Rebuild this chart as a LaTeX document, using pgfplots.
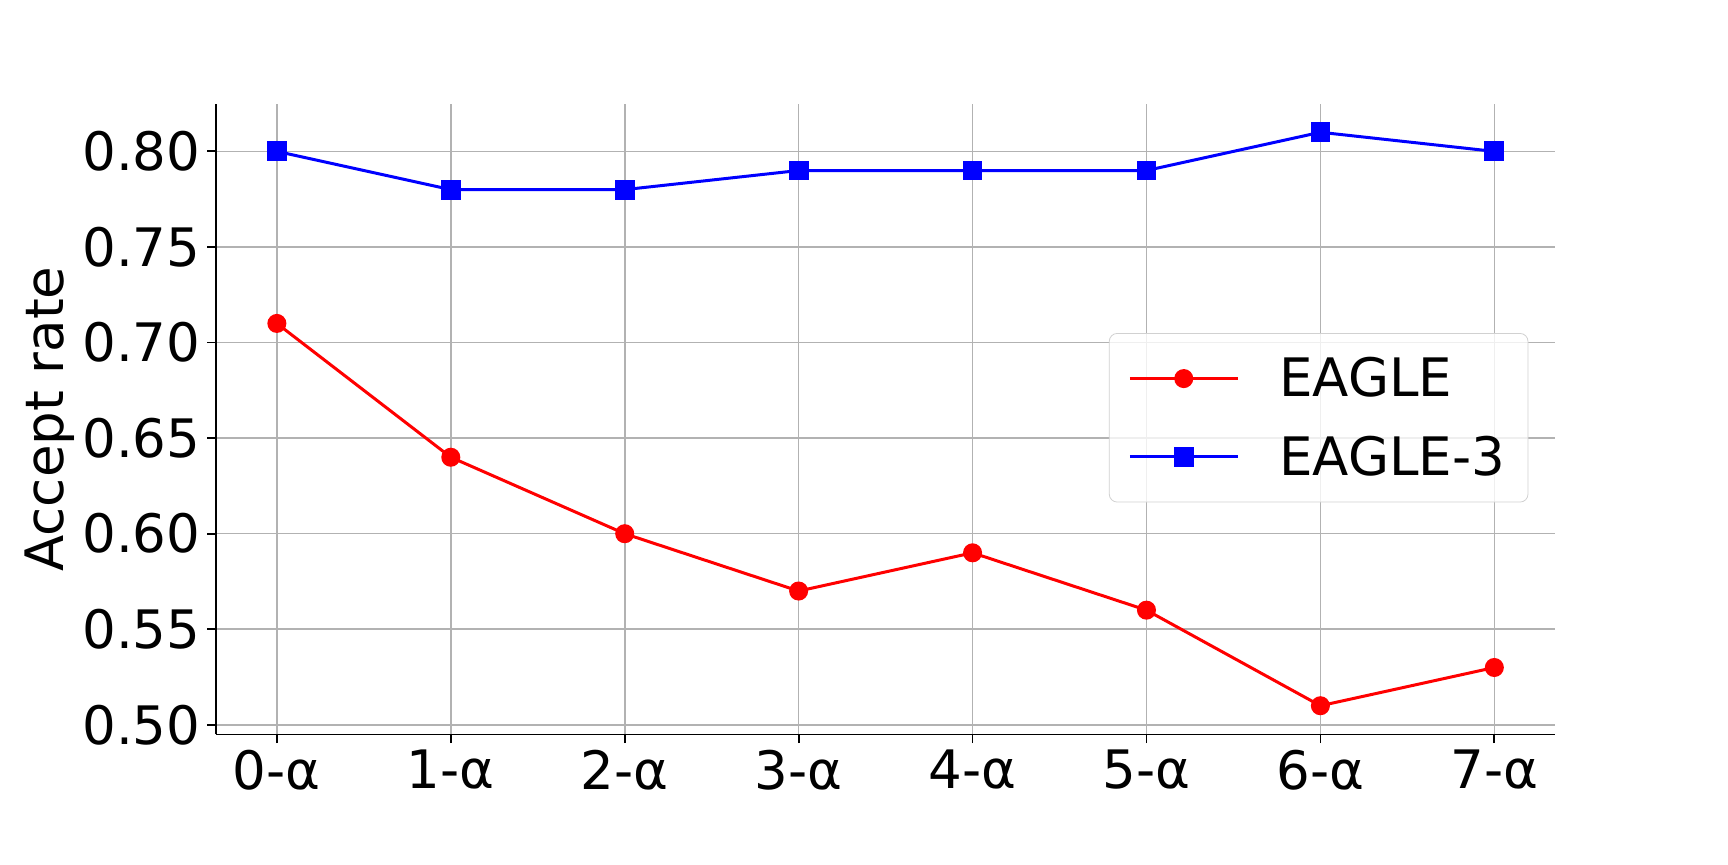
\documentclass[border=0pt]{standalone}
\usepackage{pgfplots}
\pgfplotsset{compat=1.18}
\usepackage{fontspec}
\setmainfont{DejaVu Sans}

\begin{document}
\begin{tikzpicture}
\path[use as bounding box] (0,0) rectangle (864pt,432pt);
\begin{axis}[
    at={(108pt,64.8pt)}, anchor=south west,
    width=669.6pt, height=315.4pt, scale only axis,
    xmin=-0.35, xmax=7.35, ymin=0.495, ymax=0.825,
    axis x line*=bottom, axis y line*=left,
    axis line style={-, black, line width=0.9pt},
    xtick={0,1,2,3,4,5,6,7},
    xticklabels={0-α,1-α,2-α,3-α,4-α,5-α,6-α,7-α},
    ytick={0.50,0.55,0.60,0.65,0.70,0.75,0.80},
    yticklabel style={/pgf/number format/fixed, /pgf/number format/fixed zerofill, /pgf/number format/precision=2},
    /pgf/number format/assume math mode=true,
    tick align=outside, major tick length=4.3pt,
    tick style={black, line width=0.9pt},
    grid=major,
    grid style={color=black!30, line width=0.8pt},
    ylabel={Accept rate},
    ylabel style={at={(axis description cs:-0.124,0.5)}, anchor=center},
    label style={font=\fontsize{26.5}{32}\selectfont},
    ticklabel style={font=\fontsize{26.5}{32}\selectfont},
    legend style={at={(0.98,0.502)}, anchor=east, draw=black!18, rounded corners=4pt,
        fill=white, fill opacity=0.8, text opacity=1,
        font=\fontsize{26.5}{32}\selectfont, row sep=14pt, column sep=18pt,
        inner xsep=9.5pt, inner ysep=10pt},
    legend cell align=left,
    legend image code/.code={\draw[mark repeat=2, mark phase=2, fill opacity=1, #1] plot coordinates {(0pt,0pt) (27pt,0pt) (54pt,0pt)};},
]
\addplot[red, line width=1.5pt, mark=*, mark size=4pt, mark options={solid}]
    coordinates {(0,0.71) (1,0.64) (2,0.60) (3,0.57) (4,0.59) (5,0.56) (6,0.51) (7,0.53)};
\addlegendentry{EAGLE}
\addplot[blue, line width=1.5pt, mark=square*, mark size=4.2pt, mark options={solid}]
    coordinates {(0,0.80) (1,0.78) (2,0.78) (3,0.79) (4,0.79) (5,0.79) (6,0.81) (7,0.80)};
\addlegendentry{EAGLE-3}
\end{axis}
\end{tikzpicture}
\end{document}
